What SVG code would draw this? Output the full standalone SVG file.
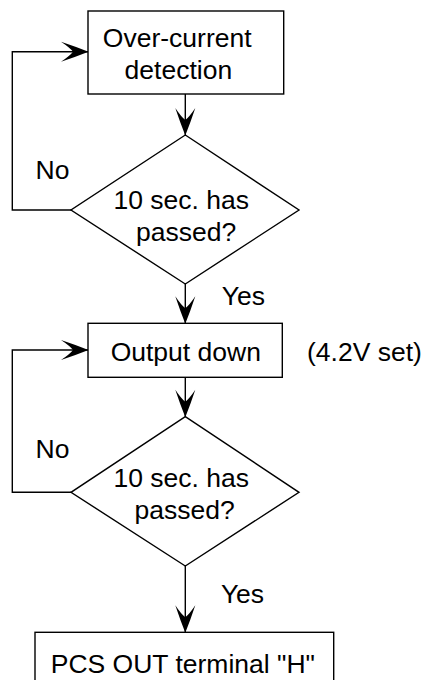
<svg xmlns="http://www.w3.org/2000/svg" width="424" height="680" viewBox="0 0 424 680">
<style>
.shape{fill:#fff;stroke:#000;stroke-width:1.4}
.conn{fill:none;stroke:#000;stroke-width:1.4}
text{font-family:"Liberation Sans",Arial,sans-serif;font-size:26.5px;fill:#000;text-anchor:middle}
</style>
<defs>
<marker id="arr" viewBox="-28 -12 30 24" refX="0" refY="0" markerWidth="30" markerHeight="24" markerUnits="userSpaceOnUse" orient="auto">
<path d="M0.5 0 Q-12 -5 -27 -10 Q-18 -4 -15 0 Q-18 4 -27 10 Q-12 5 0.5 0 Z" fill="#000"/>
</marker>
</defs>
<rect width="424" height="680" fill="#fff"/>
<g id="connectors">
<path class="conn" d="M185.3 94 V135" marker-end="url(#arr)"/>
<path class="conn" d="M71 210 H12.3 V51.7 H88" marker-end="url(#arr)"/>
<path class="conn" d="M185.3 284 V323.3" marker-end="url(#arr)"/>
<path class="conn" d="M185.3 377.3 V416.7" marker-end="url(#arr)"/>
<path class="conn" d="M71 492.3 H12.3 V350 H88" marker-end="url(#arr)"/>
<path class="conn" d="M185.3 566 V632.3" marker-end="url(#arr)"/>
<text x="52.5" y="179.3">No</text>
<text x="243.3" y="305">Yes</text>
<text x="52.5" y="458.3">No</text>
<text x="242.5" y="603.3">Yes</text>
</g>
<g id="n1">
<rect class="shape" x="88" y="11" width="195.7" height="83"/>
<text x="177.2" y="47.3">Over-current</text>
<text x="178.4" y="78.5">detection</text>
</g>
<g id="d1">
<polygon class="shape" points="185.3,135 299,210 185.3,284 71,210"/>
<text x="181.3" y="209">10 sec. has</text>
<text x="186.2" y="240.7">passed?</text>
</g>
<g id="n2">
<rect class="shape" x="88" y="323.3" width="194.3" height="54"/>
<text x="185.8" y="361">Output down</text>
</g>
<g id="note">
<text x="364.5" y="361">(4.2V set)</text>
</g>
<g id="d2">
<polygon class="shape" points="185.3,416.7 299,492.3 185.3,566 71,492.3"/>
<text x="181.3" y="486.7">10 sec. has</text>
<text x="184.7" y="519">passed?</text>
</g>
<g id="n3">
<rect class="shape" x="35" y="632.3" width="298.7" height="70"/>
<text x="182.9" y="673.3">PCS OUT terminal "H"</text>
</g>
</svg>
